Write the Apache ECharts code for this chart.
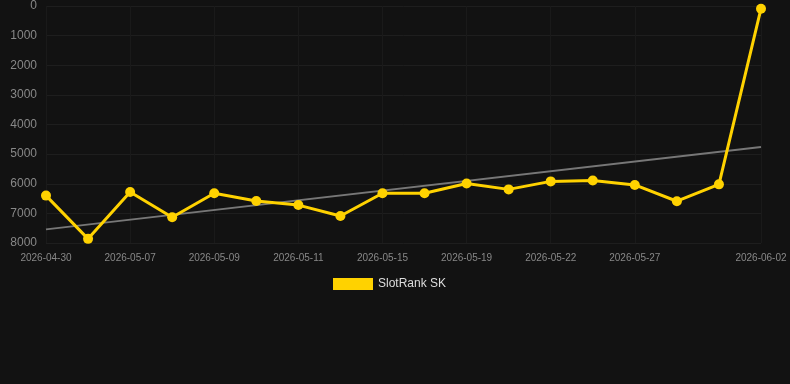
<!DOCTYPE html>
<html>
<head>
<meta charset="utf-8">
<script src="https://cdn.jsdelivr.net/npm/echarts@6/dist/echarts.min.js"></script>
<style>
  html, body { margin: 0; padding: 0; background: #121212; }
  #chart { width: 790px; height: 384px; }
</style>
</head>
<body>
<div id="chart"></div>
<script>
const dates = [
  '2026-04-30', '2026-05-04', '2026-05-07', '2026-05-08', '2026-05-09', '2026-05-10',
  '2026-05-11', '2026-05-13', '2026-05-15', '2026-05-17', '2026-05-19', '2026-05-20',
  '2026-05-22', '2026-05-25', '2026-05-27', '2026-05-29', '2026-05-31', '2026-06-02'
];
const rankValues = [
  6400, 7860, 6280, 7130, 6320, 6580,
  6720, 7090, 6320, 6320, 5990, 6190,
  5920, 5890, 6040, 6590, 6020, 90
];
// trend line ends
const trendEnds = [7540, 4760];
const yTicks = [0, 8000, 1000];

const trendData = dates.map((d, i) => {
  if (i === 0) return trendEnds[0];
  if (i === dates.length - 1) return trendEnds[1];
  return null;
});

const shownLabels = [0, 2, 4, 6, 8, 10, 12, 14, 17];

const chart = echarts.init(document.getElementById('chart'));

const option = {
  backgroundColor: '#121212',
  animation: false,
  grid: { left: 46, right: 29, top: 6, bottom: 141 },
  legend: {
    top: 273,
    left: 328,
    itemWidth: 40,
    itemHeight: 12,
    itemGap: 10,
    data: [{ name: 'SlotRank SK', icon: 'rect' }],
    textStyle: { color: '#dddddd', fontSize: 12, fontFamily: 'Liberation Sans, Arial, sans-serif' }
  },
  xAxis: {
    type: 'category',
    data: dates,
    boundaryGap: false,
    axisLine: { show: false },
    axisTick: { show: false },
    axisLabel: {
      color: '#888888',
      fontSize: 10,
      margin: 10,
      fontFamily: 'Liberation Sans, Arial, sans-serif',
      interval: (idx) => shownLabels.includes(idx)
    },
    splitLine: {
      show: true,
      interval: (idx) => shownLabels.includes(idx),
      lineStyle: { color: '#1a1a1a', width: 1 }
    }
  },
  yAxis: {
    type: 'value',
    inverse: true,
    min: yTicks[0],
    max: yTicks[1],
    interval: yTicks[2],
    axisLine: { show: false },
    axisTick: { show: false },
    axisLabel: {
      color: '#888888',
      fontSize: 12,
      margin: 9,
      fontFamily: 'Liberation Sans, Arial, sans-serif',
      formatter: (v) => String(v)
    },
    splitLine: { lineStyle: { color: '#1e1e1e', width: 1 } }
  },
  series: [
    {
      name: 'trend',
      type: 'line',
      data: trendData,
      connectNulls: true,
      symbol: 'none',
      silent: true,
      lineStyle: { color: '#777777', width: 2 },
      z: 1
    },
    {
      name: 'SlotRank SK',
      type: 'line',
      data: rankValues,
      symbol: 'circle',
      symbolSize: 10,
      itemStyle: { color: '#ffd200' },
      lineStyle: { color: '#ffd200', width: 3 },
      z: 2
    }
  ]
};

chart.setOption(option);
</script>
</body>
</html>
